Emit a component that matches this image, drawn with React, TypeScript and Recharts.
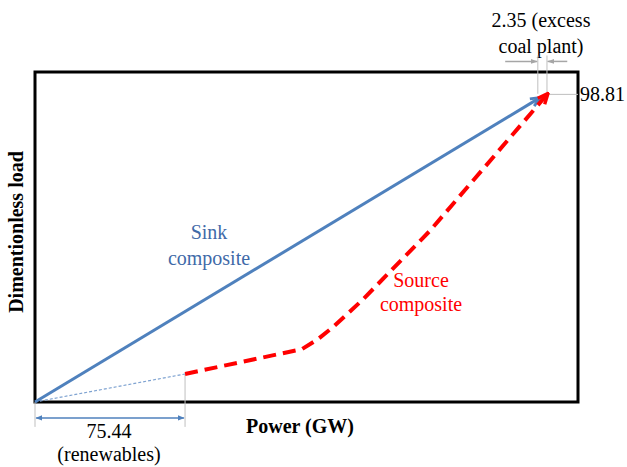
import { LineChart, Line, XAxis, YAxis, ReferenceLine, ReferenceArea, Customized } from 'recharts';

// Composite curves (x: power GW, y: dimensionless load)
const sinkX = [0, 253.5];
const sinkY = [0, 97.6];
const renewX = [0, 75.44];
const renewY = [0, 9.0];
const sourceX = [75.44, 134.3, 142.3, 149.9, 164.5, 198.7, 257.5];
const sourceY = [9.0, 17.0, 20.2, 24.1, 32.7, 55.1, 98.81];

const renewables = 75.44;
const sinkEnd = 252.8;
const sourceEnd = 257.4;
const maxLoad = 98.81;

const X_MAX = 273;
const Y_MAX = 106;

const toPoints = (xs: number[], ys: number[]) => xs.map((x, i) => ({ x, y: ys[i] }));

const sink = toPoints(sinkX, sinkY);
const renew = toPoints(renewX, renewY);
const source = toPoints(sourceX, sourceY);

const FONT = 'Liberation Serif';
const BLUE = '#4F81BD';
const GREY = '#BFBFBF';
const ARROW_GREY = '#A6A6A6';

function Annotations() {
  return (
    <g>
      <text fontFamily={FONT} x={209} y={239} textAnchor="middle" fontSize={20} fill="#3F6AA8">Sink</text>
      <text fontFamily={FONT} x={209} y={265} textAnchor="middle" fontSize={20} fill="#3F6AA8">composite</text>
      <text fontFamily={FONT} x={421} y={287} textAnchor="middle" fontSize={20} fill="#FF0000">Source</text>
      <text fontFamily={FONT} x={421} y={311} textAnchor="middle" fontSize={20} fill="#FF0000">composite</text>
      <text fontFamily={FONT} x={300} y={433} textAnchor="middle" fontSize={20} fontWeight="bold" fill="#000">Power (GW)</text>
      <text fontFamily={FONT} x={23} y={232} textAnchor="middle" fontSize={20} fontWeight="bold" fill="#000" transform="rotate(-90 23 232)">Dimentionless load</text>
      <text fontFamily={FONT} x={109} y={438} textAnchor="middle" fontSize={20} fill="#000">{renewables.toFixed(2)}</text>
      <text fontFamily={FONT} x={109} y={461} textAnchor="middle" fontSize={20} fill="#000">(renewables)</text>
      <text fontFamily={FONT} x={580} y={101} textAnchor="start" fontSize={20} fill="#000">{maxLoad.toFixed(2)}</text>
      <text fontFamily={FONT} x={541} y={27} textAnchor="middle" fontSize={20} fill="#000">2.35 (excess</text>
      <text fontFamily={FONT} x={541} y={53} textAnchor="middle" fontSize={20} fill="#000">coal plant)</text>
    </g>
  );
}

export default function App() {
  return (
    <div style={{ position: 'absolute', left: 0, top: 0, background: '#fff' }}>
      <svg width={0} height={0} style={{ position: 'absolute' }}>
        <defs>
          <marker id="mSink" viewBox="0 0 10 10" refX="8" refY="5" markerWidth="12" markerHeight="12" markerUnits="userSpaceOnUse" orient="auto">
            <path d="M1,1.5 L9,5 L1,8.5" fill="none" stroke={BLUE} strokeWidth="2.4" />
          </marker>
          <marker id="mSource" viewBox="0 0 10 10" refX="8" refY="5" markerWidth="13" markerHeight="13" markerUnits="userSpaceOnUse" orient="auto">
            <path d="M1,1.5 L9,5 L1,8.5" fill="none" stroke="#FF0000" strokeWidth="2.6" />
          </marker>
          <marker id="mDim" viewBox="0 0 10 10" refX="9" refY="5" markerWidth="7" markerHeight="7" markerUnits="userSpaceOnUse" orient="auto-start-reverse">
            <path d="M0,1 L10,5 L0,9 Z" fill={BLUE} />
          </marker>
          <marker id="mGrey" viewBox="0 0 10 10" refX="9" refY="5" markerWidth="7" markerHeight="7" markerUnits="userSpaceOnUse" orient="auto">
            <path d="M0,1.5 L10,5 L0,8.5 Z" fill={ARROW_GREY} />
          </marker>
        </defs>
      </svg>
      <LineChart width={627} height={467} margin={{ top: 72, right: 49, bottom: 65, left: 35 }}>
        <XAxis type="number" dataKey="x" domain={[0, X_MAX]} hide />
        <YAxis type="number" dataKey="y" domain={[0, Y_MAX]} hide />
        <ReferenceArea x1={0} x2={X_MAX} y1={0} y2={Y_MAX} fill="none" stroke="#000" strokeWidth={3} fillOpacity={0} ifOverflow="visible" />

        {/* guide lines */}
        <ReferenceLine segment={[{ x: 0, y: 0 }, { x: 0, y: -8 }]} stroke={GREY} strokeWidth={1} ifOverflow="visible" />
        <ReferenceLine segment={[{ x: renewables, y: renewY[1] }, { x: renewables, y: -8 }]} stroke={GREY} strokeWidth={1} ifOverflow="visible" />
        <ReferenceLine segment={[{ x: 0.6, y: -5.1 }, { x: renewables - 0.6, y: -5.1 }]} stroke={BLUE} strokeWidth={1.5} ifOverflow="visible" markerStart="url(#mDim)" markerEnd="url(#mDim)" />
        <ReferenceLine segment={[{ x: sinkEnd, y: 111.3 }, { x: sinkEnd, y: 99 }]} stroke={GREY} strokeWidth={1} ifOverflow="visible" />
        <ReferenceLine segment={[{ x: sourceEnd, y: 111.3 }, { x: sourceEnd, y: maxLoad }]} stroke={GREY} strokeWidth={1} ifOverflow="visible" />
        <ReferenceLine segment={[{ x: sourceEnd, y: maxLoad }, { x: X_MAX, y: maxLoad }]} stroke={GREY} strokeWidth={1} ifOverflow="visible" />
        <ReferenceLine segment={[{ x: 236.4, y: 109.4 }, { x: sinkEnd - 0.4, y: 109.4 }]} stroke={ARROW_GREY} strokeWidth={1.5} ifOverflow="visible" markerEnd="url(#mGrey)" />
        <ReferenceLine segment={[{ x: 267.6, y: 109.4 }, { x: sourceEnd + 0.4, y: 109.4 }]} stroke={ARROW_GREY} strokeWidth={1.5} ifOverflow="visible" markerEnd="url(#mGrey)" />

        <Line data={renew} dataKey="y" type="linear" stroke="#7FA3D1" strokeWidth={1.2} strokeDasharray="3 2" dot={false} activeDot={false} isAnimationActive={false} />
        <Line data={sink} dataKey="y" type="linear" stroke={BLUE} strokeWidth={3} dot={false} activeDot={false} isAnimationActive={false} markerEnd="url(#mSink)" />
        <Line data={source} dataKey="y" type="linear" stroke="#FF0000" strokeWidth={4} strokeDasharray="13 7" dot={false} activeDot={false} isAnimationActive={false} markerEnd="url(#mSource)" />
        <Customized component={<Annotations />} />
      </LineChart>
    </div>
  );
}
